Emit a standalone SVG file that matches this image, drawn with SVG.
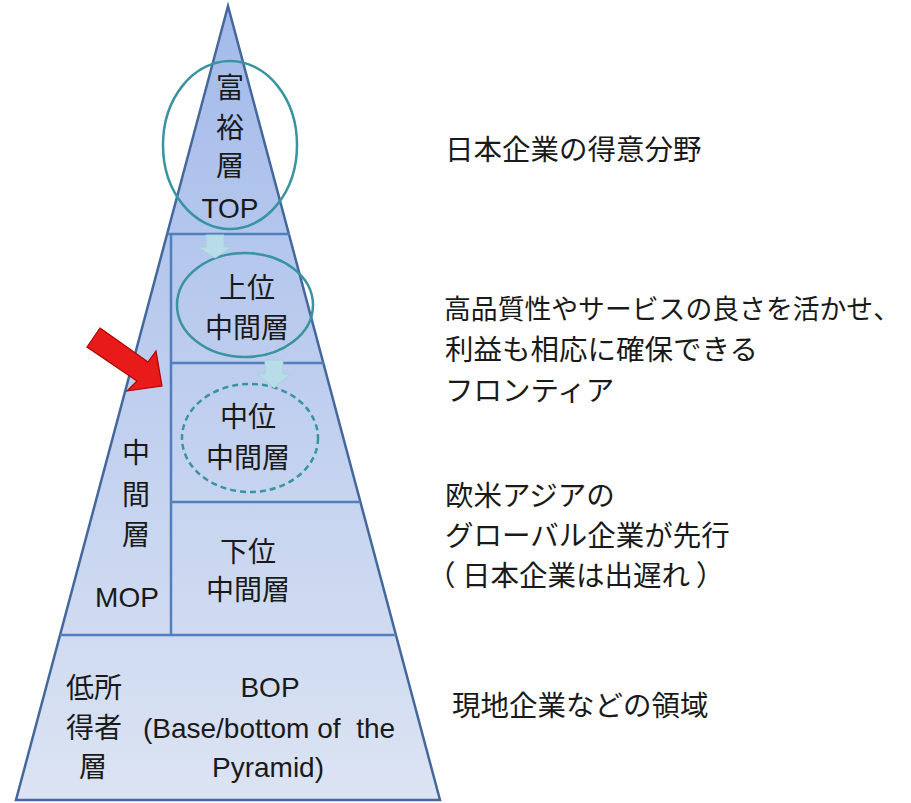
<svg xmlns="http://www.w3.org/2000/svg" width="911" height="803" viewBox="0 0 911 803">
<defs>
<linearGradient id="pg" x1="0" y1="6" x2="0" y2="800" gradientUnits="userSpaceOnUse">
<stop offset="0" stop-color="#a3baea"/>
<stop offset="1" stop-color="#dce4f3"/>
</linearGradient>
<style>
.t{font-family:"Liberation Sans","Noto Sans CJK JP",sans-serif;font-size:28px;fill:#1a1a1a;text-anchor:middle;dominant-baseline:central}
.r{font-family:"Noto Sans CJK JP","Liberation Sans",sans-serif;font-size:28.5px;fill:#1a1a1a;dominant-baseline:central}
.div{stroke:#4f7fbf;stroke-width:2.5;fill:none}
.ell{fill:none;stroke:#3a93a0;stroke-width:2.5}
.ba{fill:#b9dde8;stroke:#a6cfdc;stroke-width:1}
</style>
</defs>
<rect width="911" height="803" fill="#ffffff"/>
<g id="pyramid">
<polygon points="228,6 440,800 16,800" fill="url(#pg)" stroke="#45689c" stroke-width="2.5"/>
<line class="div" x1="168" y1="234" x2="290" y2="234"/>
<line class="div" x1="171" y1="234" x2="171" y2="635"/>
<line class="div" x1="171" y1="363" x2="324" y2="363"/>
<line class="div" x1="171" y1="502" x2="360" y2="502"/>
<line class="div" x1="60" y1="635" x2="396" y2="635"/>
</g>
<g id="top">
<ellipse class="ell" cx="230" cy="145" rx="67" ry="84"/>
<text class="t" x="230" y="88">富</text>
<text class="t" x="230" y="128">裕</text>
<text class="t" x="230" y="166">層</text>
<text class="t" x="230" y="208">TOP</text>
</g>
<g id="upper-middle">
<ellipse class="ell" cx="245" cy="305" rx="68" ry="52"/>
<text class="t" x="247" y="288">上位</text>
<text class="t" x="247" y="328">中間層</text>
</g>
<g id="mid-middle">
<ellipse class="ell" cx="250" cy="438" rx="68" ry="54" stroke-dasharray="6,4"/>
<text class="t" x="248" y="417">中位</text>
<text class="t" x="248" y="458">中間層</text>
</g>
<g id="lower-middle">
<text class="t" x="248" y="552">下位</text>
<text class="t" x="248" y="590">中間層</text>
</g>
<g id="mop">
<text class="t" x="136" y="453">中</text>
<text class="t" x="136" y="495">間</text>
<text class="t" x="136" y="535">層</text>
<text class="t" x="127" y="597">MOP</text>
</g>
<g id="bop">
<text class="t" x="94" y="688">低所</text>
<text class="t" x="94" y="728">得者</text>
<text class="t" x="93" y="767">層</text>
<text class="t" x="270" y="687">BOP</text>
<text class="t" x="269" y="728" xml:space="preserve">(Base/bottom of  the</text>
<text class="t" x="268" y="767">Pyramid)</text>
</g>
<g id="connectors">
<polygon class="ba" points="206,235 224,235 224,247 232,247 215,258 198,247 206,247"/>
<polygon class="ba" points="265,360 283,360 283,374 291,374 274,388 257,374 265,374"/>
<polygon points="100,328 148,362 156,351 162,386 127,391 137,381 87,347" fill="#e81a1a" stroke="#b00000" stroke-width="1.2"/>
</g>
<g id="labels">
<text class="r" x="444" y="307" style="font-size:27px" textLength="456" lengthAdjust="spacingAndGlyphs">高品質性やサービスの良さを活かせ、</text>
<text class="r" x="445" y="147">日本企業の得意分野</text>
<text class="r" x="445" y="347">利益も相応に確保できる</text>
<text class="r" x="445" y="388">フロンティア</text>
<text class="r" x="445" y="493">欧米アジアの</text>
<text class="r" x="445" y="533">グローバル企業が先行</text>
<text class="r" y="573"><tspan x="427">（</tspan><tspan x="462">日本企業は出遅れ</tspan><tspan dx="6">）</tspan></text>
<text class="r" x="452" y="703">現地企業などの領域</text>
</g>
</svg>
